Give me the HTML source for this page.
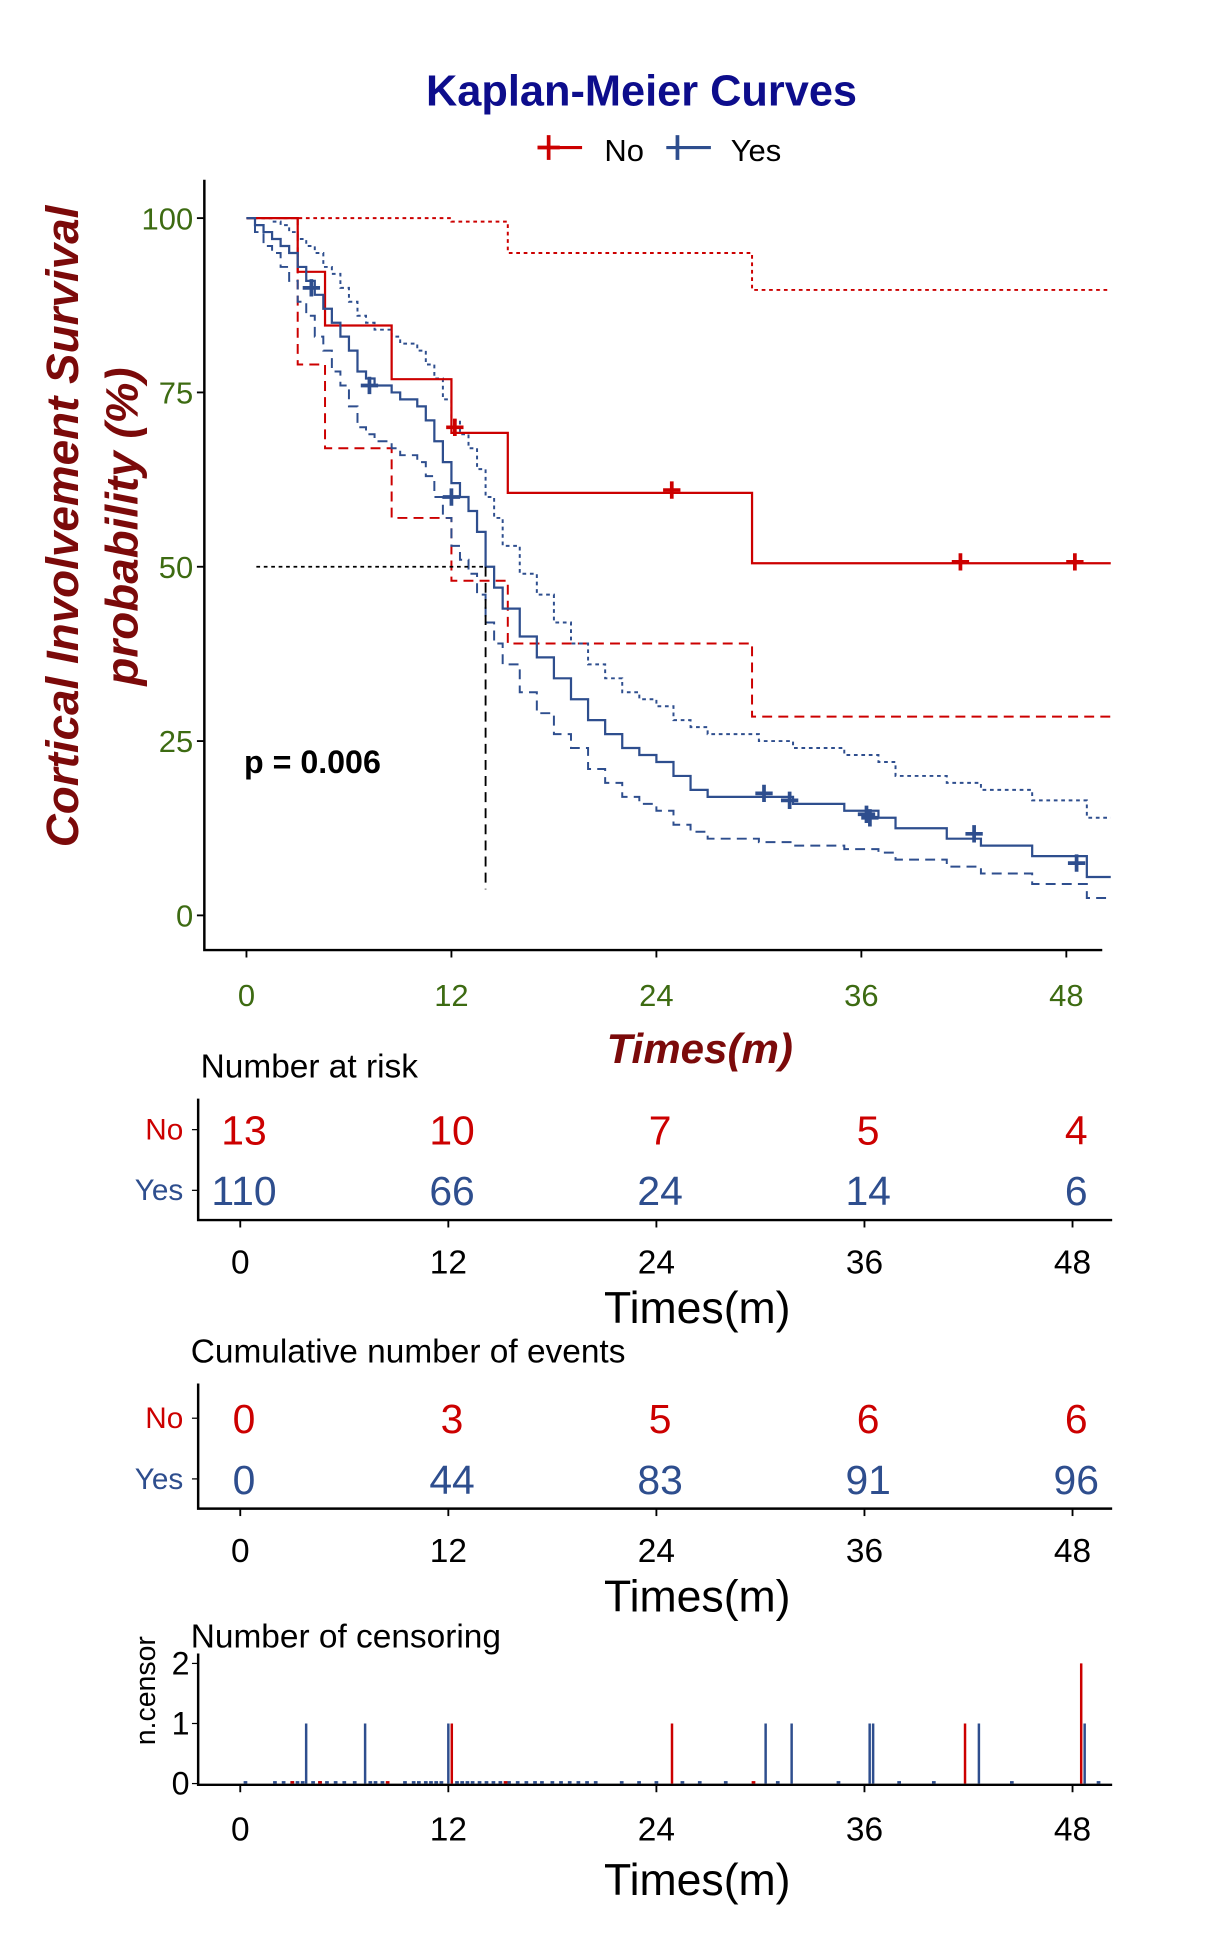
<!DOCTYPE html>
<html><head><meta charset="utf-8"><style>
html,body{margin:0;padding:0;background:#fff;}
svg{display:block;font-family:"Liberation Sans",sans-serif;}
</style></head><body>
<svg id="svg" width="1210" height="1941" viewBox="0 0 977 1567" xmlns="http://www.w3.org/2000/svg">
<text x="518" y="85" text-anchor="middle" font-size="35" font-weight="bold" fill="#0d0d8c">Kaplan-Meier Curves</text>
<g>
 <g><line x1="434" y1="119" x2="470" y2="119" stroke="#cc0000" stroke-width="2.5"/><line x1="443" y1="109" x2="443" y2="129" stroke="#cc0000" stroke-width="3"/><line x1="434" y1="119" x2="452" y2="119" stroke="#cc0000" stroke-width="3"/><text x="488" y="130" font-size="25" fill="#000">No</text></g>
 <g><line x1="538" y1="119" x2="574" y2="119" stroke="#2e4e8e" stroke-width="2.5"/><line x1="547" y1="109" x2="547" y2="129" stroke="#2e4e8e" stroke-width="3"/><text x="590" y="130" font-size="25" fill="#000">Yes</text></g>
</g>
<g id="main"></g>
<g id="tables"></g>
<g id="cens"></g>
</svg>
<script>
// ---- data ----
const noTimes = [0, 3, 4.6, 8.5, 12, 15.3, 29.6, 50.6];
const noSurv = [100, 92.3, 84.6, 76.9, 69.2, 60.6, 50.5, 50.5];
const noUpper = [100, 100, 100, 100, 99.5, 95, 89.7, 89.7];
const noLower = [100, 79, 67, 57, 48, 39, 28.5, 28.5];
const noCensT = [12.2, 24.9, 41.8, 48.5];
const noCensS = [70, 61, 50.7, 50.7];
const yesTimes = [0,0.5,1,1.5,2,2.5,3,3.5,4,4.5,5,5.5,6,6.5,7,7.5,8.5,9,10,10.5,11,11.5,12,12.5,13,13.5,14,14.5,15,16,17,18,19,20,21,22,23,24,25,26,27,30,32,35,37,38,41,43,46,49.2];
const yesSurv = [100,99,98,97,96,95,93,91,89,87,85,83,81,78,77,76,75,74,73,71,68,65,62,60,58,55,50,47,44,40,37,34,31,28,26,24,23,22,20,18,17,17,16,15,14,12.5,11,10,8.5,5.5];
const yesUpper = [100,100,100,99.5,99,98,97,96,95,93,92,90,88,86,85,84,83,82,81,79,77,74,71,69,67,64,60,57,53,49,46,42,39,36,34,32,31,30,28,27,26,25,24,23,22,20,19,18,16.5,14];
const yesLower = [100,98,96,95,93,91,88,86,83,81,78,76,73,70,69,68,67,66,65,63,60,57,53,51,49,46,42,39,36,32,29,26,24,21,19,17,16,15,13,12,11,10.5,10,9.5,9,8,7,6,4.5,2.5];
const yesCensT = [3.8, 7.2, 12, 30.3, 31.8, 36.3, 36.5, 42.6, 48.6];
const yesCensS = [90, 76, 60, 17.5, 16.5, 14.5, 14, 11.7, 7.5];
const xTicks = [0, 12, 24, 36, 48];
const yTicks = [0, 25, 50, 75, 100];
const riskNo = [13, 10, 7, 5, 4];
const riskYes = [110, 66, 24, 14, 6];
const eventsNo = [0, 3, 5, 6, 6];
const eventsYes = [0, 44, 83, 91, 96];
const censNoT = [12.2, 24.9, 41.8, 48.5];
const censNoN = [1, 1, 1, 2];
const censYesT = [3.8, 7.2, 12, 30.3, 31.8, 36.3, 36.5, 42.6, 48.7];
const censYesN = [1, 1, 1, 1, 1, 1, 1, 1, 1];
const eventDotsYes = [0.3,2,2.5,3,3.3,3.6,4.2,4.6,5,5.5,6,6.6,7.5,7.8,8.2,9.5,10,10.3,10.7,11,11.3,11.6,12.5,12.8,13.1,13.4,13.8,14.2,14.6,15,15.5,16,16.5,17,17.4,18,18.5,19,19.5,20,20.5,22,23,24,25.5,26.5,28,31,34.5,38,40,44.5,49.5];
const eventDotsNo = [3, 4.6, 8.5, 15.3, 29.6];

const RED = "#cc0000", BLUE = "#2e4e8e", GREEN = "#3d6b12", DRED = "#7b0a0a";
const NS = "http://www.w3.org/2000/svg";
function mk(parent, tag, attrs, text) {
  const e = document.createElementNS(NS, tag);
  for (const k in attrs) e.setAttribute(k, attrs[k]);
  if (text !== undefined) e.textContent = text;
  parent.appendChild(e);
  return e;
}
const X = t => 199 + t * (861 - 199) / 48;
const Y = s => 739 - s * (739 - 176) / 100;
const main = document.getElementById('main');
function stepPath(ts, ss) {
  let d = `M${X(ts[0])},${Y(ss[0])}`;
  for (let i = 1; i < ts.length; i++) d += ` H${X(ts[i])} V${Y(ss[i])}`;
  return d;
}
function addLine(ts, ss, col, dash, w, name) {
  const p = mk(main, 'path', {d: stepPath(ts, ss), fill: 'none', stroke: col, 'stroke-width': w, 'stroke-dasharray': dash});
  
  
}
let a = mk(main, 'path', {d: 'M165,145 V767 H890', fill: 'none', stroke: '#000', 'stroke-width': 2});


yTicks.forEach(v => {
  mk(main, 'line', {x1: 159, x2: 165, y1: Y(v), y2: Y(v), stroke: '#000', 'stroke-width': 1.5});
  const t = mk(main, 'text', {x: 156, y: Y(v) + 9, 'text-anchor': 'end', 'font-size': 25, fill: GREEN}, String(v));
  
  
});
xTicks.forEach(v => {
  mk(main, 'line', {x1: X(v), x2: X(v), y1: 767, y2: 773, stroke: '#000', 'stroke-width': 1.5});
  const t = mk(main, 'text', {x: X(v), y: 812, 'text-anchor': 'middle', 'font-size': 25, fill: GREEN}, String(v));
  
  
});
addLine(noTimes, noUpper, RED, '3,3', 1.6, 'no-upper-ci');
addLine(noTimes, noLower, RED, '8,5', 1.6, 'no-lower-ci');
const yT2 = yesTimes.concat([50.6]);
addLine(yT2, yesUpper.concat([yesUpper[49]]), BLUE, '3,3', 1.6, 'yes-upper-ci');
addLine(yT2, yesLower.concat([yesLower[49]]), BLUE, '8,5', 1.6, 'yes-lower-ci');
addLine(noTimes, noSurv, RED, '', 1.8, 'no-survival-curve');
addLine(yT2, yesSurv.concat([yesSurv[49]]), BLUE, '', 1.8, 'yes-survival-curve');
function cross(t, s, col, name) {
  const g = mk(main, 'path', {d: `M${X(t)-7},${Y(s)} h14 M${X(t)},${Y(s)-7} v14`, stroke: col, 'stroke-width': 3});
  
  
}
noCensT.forEach((t, i) => cross(t, noCensS[i], RED, 'no-censor-mark'));
yesCensT.forEach((t, i) => cross(t, yesCensS[i], BLUE, 'yes-censor-mark'));
mk(main, 'line', {x1: 207, x2: X(14), y1: Y(50), y2: Y(50), stroke: '#000', 'stroke-width': 1.5, 'stroke-dasharray': '3,3'});
mk(main, 'line', {x1: X(14), x2: X(14), y1: Y(50), y2: 718, stroke: '#000', 'stroke-width': 1.5, 'stroke-dasharray': '8,5'});
let pt = mk(main, 'text', {x: 197, y: 624, 'font-size': 26, 'font-weight': 'bold', fill: '#000'}, 'p = 0.006');


let yt = mk(main, 'text', {transform: 'translate(63,425) rotate(-90)', 'text-anchor': 'middle', 'font-size': 37, 'font-weight': 'bold', 'font-style': 'italic', fill: DRED}, 'Cortical Involvement Survival');


let yt2 = mk(main, 'text', {transform: 'translate(111,425) rotate(-90)', 'text-anchor': 'middle', 'font-size': 37, 'font-weight': 'bold', 'font-style': 'italic', fill: DRED}, 'probability (%)');


let xt = mk(main, 'text', {x: 565, y: 858, 'text-anchor': 'middle', 'font-size': 34, 'font-weight': 'bold', 'font-style': 'italic', fill: DRED}, 'Times(m)');



const TX = t => 194 + t * (866 - 194) / 48;
const tables = document.getElementById('tables');
function table(title, titleX, top, rowNo, rowYes, vNo, vYes, name) {
  const g = mk(tables, 'g', {});
  
  
  mk(g, 'text', {x: titleX, y: top, 'font-size': 27, fill: '#000'}, title);
  const bot = rowYes + 24;
  mk(g, 'path', {d: `M160,${top + 17} V${bot} H898`, fill: 'none', stroke: '#000', 'stroke-width': 2});
  mk(g, 'text', {x: 148, y: rowNo + 8, 'text-anchor': 'end', 'font-size': 24, fill: RED}, 'No');
  mk(g, 'text', {x: 148, y: rowYes + 8, 'text-anchor': 'end', 'font-size': 24, fill: BLUE}, 'Yes');
  mk(g, 'line', {x1: 155, x2: 160, y1: rowNo, y2: rowNo, stroke: '#000'});
  mk(g, 'line', {x1: 155, x2: 160, y1: rowYes, y2: rowYes, stroke: '#000'});
  xTicks.forEach((t, i) => {
    mk(g, 'text', {x: TX(t) + 3, y: rowNo + 12, 'text-anchor': 'middle', 'font-size': 33, fill: RED}, String(vNo[i]));
    mk(g, 'text', {x: TX(t) + 3, y: rowYes + 12, 'text-anchor': 'middle', 'font-size': 33, fill: BLUE}, String(vYes[i]));
    mk(g, 'line', {x1: TX(t), x2: TX(t), y1: bot, y2: bot + 6, stroke: '#000', 'stroke-width': 1.5});
    mk(g, 'text', {x: TX(t), y: bot + 43, 'text-anchor': 'middle', 'font-size': 27, fill: '#000'}, String(t));
  });
  mk(g, 'text', {x: 563, y: bot + 83, 'text-anchor': 'middle', 'font-size': 36, fill: '#000'}, 'Times(m)');
}
table('Number at risk', 162, 870, 912, 961, riskNo, riskYes, 'number-at-risk-table');
table('Cumulative number of events', 154, 1100, 1145, 1194, eventsNo, eventsYes, 'cumulative-events-table');

const cens = document.getElementById('cens');
const CY = n => 1440 - n * (1440 - 1343) / 2;
mk(cens, 'text', {x: 154, y: 1330, 'font-size': 27, fill: '#000'}, 'Number of censoring');
mk(cens, 'text', {transform: 'translate(125,1365) rotate(-90)', 'text-anchor': 'middle', 'font-size': 23, fill: '#000'}, 'n.censor');
mk(cens, 'path', {d: 'M160,1335 V1441 H898', fill: 'none', stroke: '#000', 'stroke-width': 2});
[0, 1, 2].forEach(n => {
  mk(cens, 'line', {x1: 155, x2: 160, y1: CY(n), y2: CY(n), stroke: '#000'});
  mk(cens, 'text', {x: 153, y: CY(n) + 9, 'text-anchor': 'end', 'font-size': 26, fill: '#000'}, String(n));
});
xTicks.forEach(t => {
  mk(cens, 'line', {x1: TX(t), x2: TX(t), y1: 1441, y2: 1447, stroke: '#000', 'stroke-width': 1.5});
  mk(cens, 'text', {x: TX(t), y: 1486, 'text-anchor': 'middle', 'font-size': 27, fill: '#000'}, String(t));
});
mk(cens, 'text', {x: 563, y: 1530, 'text-anchor': 'middle', 'font-size': 36, fill: '#000'}, 'Times(m)');
eventDotsYes.forEach(t => { mk(cens, 'line', {x1: TX(t) - 1.5, x2: TX(t) + 1.5, y1: 1439, y2: 1439, stroke: BLUE, 'stroke-width': 2}); });
eventDotsNo.forEach(t => { mk(cens, 'line', {x1: TX(t) - 1.5, x2: TX(t) + 1.5, y1: 1439, y2: 1439, stroke: RED, 'stroke-width': 2}); });
censYesT.forEach((t, i) => {
  const b = mk(cens, 'line', {x1: TX(t), x2: TX(t), y1: CY(0), y2: CY(censYesN[i]), stroke: BLUE, 'stroke-width': 2});
  
  
});
censNoT.forEach((t, i) => {
  const b = mk(cens, 'line', {x1: TX(t), x2: TX(t), y1: CY(0), y2: CY(censNoN[i]), stroke: RED, 'stroke-width': 2});
  
  
});
</script>
</body></html>
